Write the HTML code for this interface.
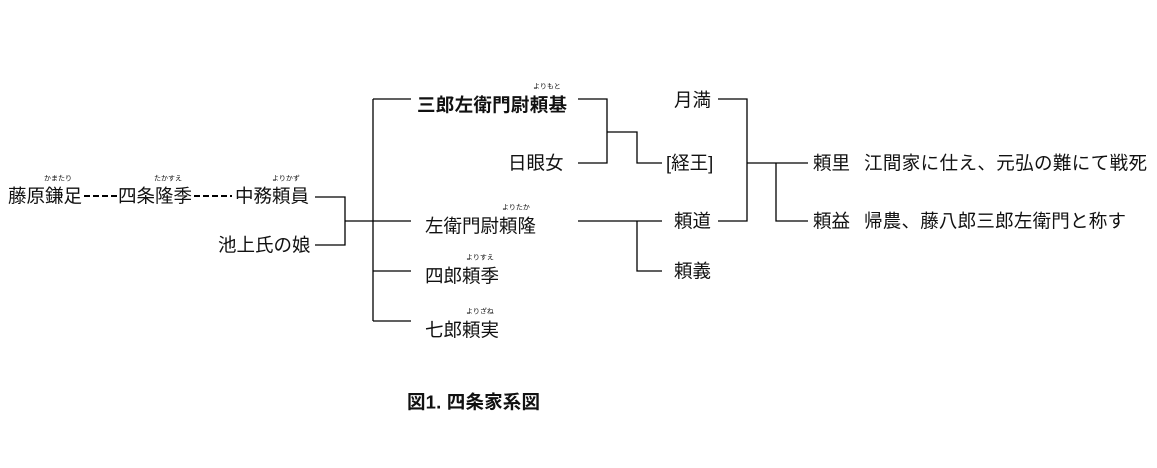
<!DOCTYPE html>
<html><head><meta charset="utf-8"><style>
html,body{margin:0;padding:0;background:#fff;}
svg{display:block;}
text{font-family:"Liberation Sans","Noto Sans CJK JP",sans-serif;fill:#111;dominant-baseline:central;}
.m{font-size:18.5px;}
.r{font-size:7px;}
</style></head><body>
<svg width="1157" height="468" viewBox="0 0 1157 468" xmlns="http://www.w3.org/2000/svg">
<g stroke="#000" stroke-width="1.3" fill="none">
<line x1="84" y1="196" x2="118" y2="196" stroke-dasharray="6,3" stroke-width="2"/>
<line x1="194" y1="196" x2="232" y2="196" stroke-dasharray="6,3" stroke-width="2"/>
<polyline points="315,197 345,197 345,245 315,245"/>
<line x1="345" y1="221" x2="373" y2="221"/>
<line x1="373" y1="99" x2="373" y2="321"/>
<line x1="373" y1="99" x2="411" y2="99"/>
<line x1="373" y1="221" x2="411" y2="221"/>
<line x1="373" y1="271" x2="411" y2="271"/>
<line x1="373" y1="321" x2="411" y2="321"/>
<polyline points="578,99 607,99 607,163 578,163"/>
<polyline points="607,132 637,132 637,163 662,163"/>
<line x1="578" y1="221" x2="662" y2="221"/>
<polyline points="637,221 637,271 662,271"/>
<polyline points="718,99 747,99 747,221 718,221"/>
<line x1="747" y1="163" x2="808" y2="163"/>
<polyline points="776,163 776,221 808,221"/>
</g>
<text class="m" x="8" y="196">藤原鎌足</text>
<text class="r" x="44" y="179">かまたり</text>
<text class="m" x="118" y="196">四条隆季</text>
<text class="r" x="154" y="179">たかすえ</text>
<text class="m" x="235" y="196">中務頼員</text>
<text class="r" x="272" y="179">よりかず</text>
<text class="m" x="218" y="245">池上氏の娘</text>
<text class="m" x="417" y="105" font-weight="bold" textLength="150">三郎左衛門尉頼基</text>
<text class="r" x="533" y="87">よりもと</text>
<text class="m" x="508" y="163">日眼女</text>
<text class="m" x="425" y="226">左衛門尉頼隆</text>
<text class="r" x="502" y="208">よりたか</text>
<text class="m" x="425" y="276">四郎頼季</text>
<text class="r" x="466" y="258">よりすえ</text>
<text class="m" x="425" y="330">七郎頼実</text>
<text class="r" x="466" y="312">よりざね</text>
<text class="m" x="674" y="100">月満</text>
<text class="m" x="666" y="163">[経王]</text>
<text class="m" x="674" y="221">頼道</text>
<text class="m" x="674" y="271">頼義</text>
<text class="m" x="813" y="163">頼里</text>
<text class="m" x="864" y="163" textLength="283">江間家に仕え、元弘の難にて戦死</text>
<text class="m" x="813" y="221">頼益</text>
<text class="m" x="864" y="221" textLength="262">帰農、藤八郎三郎左衛門と称す</text>
<text x="407" y="402" font-size="18.5" font-weight="bold" textLength="133">図1. 四条家系図</text>
</svg>
</body></html>
